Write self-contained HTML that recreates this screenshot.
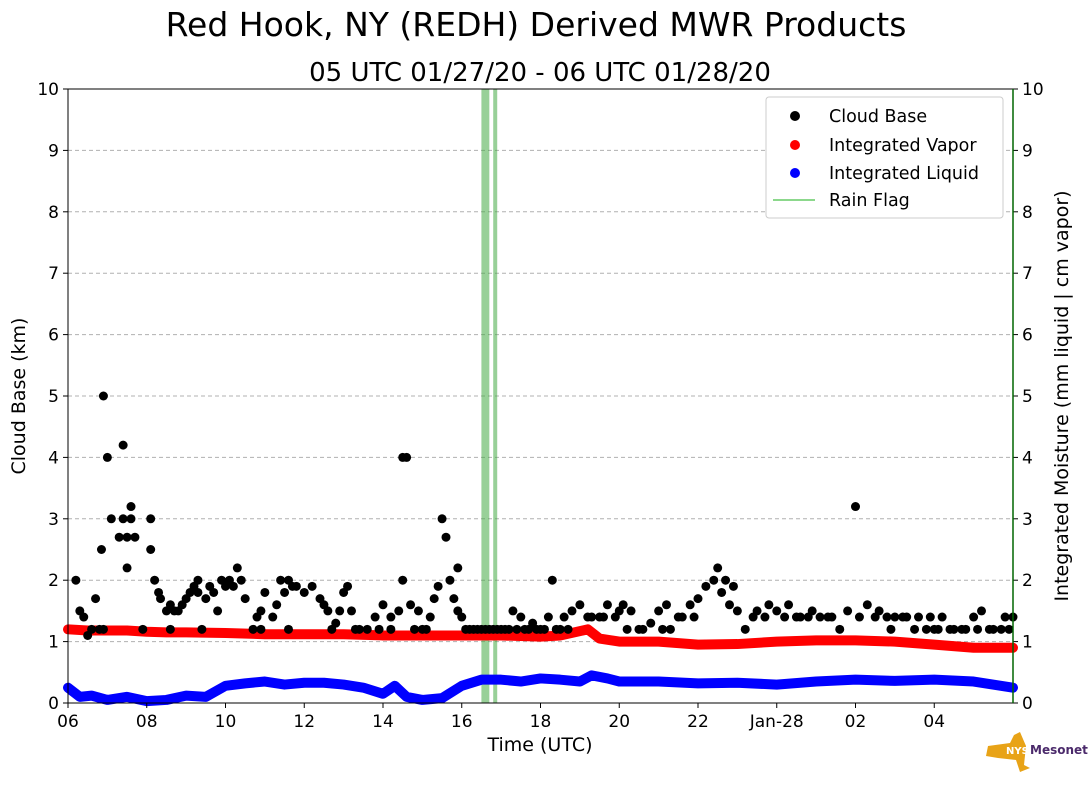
<!DOCTYPE html>
<html><head><meta charset="utf-8"><style>
body{margin:0;background:#fff;font-family:"Liberation Sans","DejaVu Sans",sans-serif}
</style></head><body>
<svg id="chart" width="1089" height="804" xmlns="http://www.w3.org/2000/svg" font-family="DejaVu Sans, Liberation Sans, sans-serif">
<rect width="1089" height="804" fill="#fff"/>
<text x="536" y="36" font-size="33" text-anchor="middle">Red Hook, NY (REDH) Derived MWR Products</text>
<text x="540" y="81" font-size="26" text-anchor="middle">05 UTC 01/27/20 - 06 UTC 01/28/20</text>
<g id="grid"></g><g id="rain"></g><g id="marks"></g><g id="axes"></g>
<text transform="translate(25,396) rotate(-90)" font-size="19" text-anchor="middle">Cloud Base (km)</text>
<text transform="translate(1068,396) rotate(-90)" font-size="19" text-anchor="middle">Integrated Moisture (mm liquid | cm vapor)</text>
<text x="540" y="751" font-size="19" text-anchor="middle">Time (UTC)</text>
<g>
<rect x="766" y="97" width="237" height="121" rx="3" fill="#fff" stroke="#ccc"/>
<circle cx="795" cy="116" r="5" fill="#000"/><text x="829" y="122" font-size="17.5">Cloud Base</text>
<circle cx="795" cy="145" r="5" fill="red"/><text x="829" y="151" font-size="17.5">Integrated Vapor</text>
<circle cx="795" cy="173" r="5" fill="blue"/><text x="829" y="179" font-size="17.5">Integrated Liquid</text>
<line x1="773" y1="200" x2="815" y2="200" stroke="#6c6" stroke-width="1.5"/><text x="829" y="206" font-size="17.5">Rain Flag</text>
</g>
<g>
<path d="M988,746 L1010,743 L1014,735 L1020,732 L1026,746 L1024,765 L1030,768 L1020,772 L1016,760 L998,758 L986,756 Z" fill="#e8a317"/>
<text x="1006" y="754" font-size="10" font-weight="bold" fill="#fff">NYS</text>
<text x="1030" y="754" font-size="12" font-weight="bold" fill="#4b2a6b">Mesonet</text>
</g>
</svg>
<script>
const xTickLabels=["06","08","10","12","14","16","18","20","22","Jan-28","02","04"];
const yTickLabels=[0,1,2,3,4,5,6,7,8,9,10];
const rainFlag=[16.55,16.65,16.85];
const cloudHours=[6.2,6.3,6.4,6.5,6.6,6.7,6.8,6.85,6.9,7.0,7.1,7.3,7.4,7.4,7.5,7.5,7.6,7.6,7.7,8.1,8.1,8.2,8.3,8.35,8.5,8.6,8.7,8.8,8.9,9.0,9.1,9.2,9.3,9.3,9.5,9.6,9.7,9.8,9.9,10.0,10.1,10.2,10.3,10.4,10.5,10.7,10.8,10.9,11.0,11.2,11.3,11.4,11.5,11.6,11.7,11.8,12.0,12.2,12.4,12.5,12.6,12.8,12.9,13.0,13.1,13.2,13.3,13.6,13.8,14.0,14.2,14.4,14.5,14.6,14.5,14.7,14.8,14.9,15.0,15.2,15.3,15.4,15.5,15.6,15.7,15.8,15.9,15.9,16.0,16.1,16.3,16.5,16.7,16.9,17.1,17.3,17.5,17.7,17.8,18.0,18.2,18.3,18.5,18.6,18.8,19.0,19.2,19.5,19.7,20.0,20.1,20.3,20.5,20.8,21.0,21.2,21.3,21.5,21.8,22.0,22.2,22.4,22.5,22.6,22.7,22.8,22.9,23.0,23.2,23.5,23.8,24.0,24.3,24.6,24.9,25.3,25.6,25.8,26.0,26.3,26.6,26.9,27.2,27.5,27.8,28.0,28.2,28.5,28.8,29.0,29.2,29.5,29.8,30.0,
6.9,7.9,8.6,9.4,10.9,11.6,12.7,13.4,13.9,14.2,15.1,16.2,16.4,16.6,16.8,17.0,17.2,17.4,17.6,17.9,18.1,18.4,18.7,19.3,19.6,19.9,20.2,20.6,21.1,21.6,21.9,23.4,23.7,24.2,24.5,24.8,25.1,25.4,26.1,26.5,26.8,27.0,27.3,27.6,27.9,28.1,28.4,28.7,29.1,29.4,29.7,29.9];
const cloudKm=[2.0,1.5,1.4,1.1,1.2,1.7,1.2,2.5,5.0,4.0,3.0,2.7,4.2,3.0,2.2,2.7,3.2,3.0,2.7,3.0,2.5,2.0,1.8,1.7,1.5,1.6,1.5,1.5,1.6,1.7,1.8,1.9,2.0,1.8,1.7,1.9,1.8,1.5,2.0,1.9,2.0,1.9,2.2,2.0,1.7,1.2,1.4,1.5,1.8,1.4,1.6,2.0,1.8,2.0,1.9,1.9,1.8,1.9,1.7,1.6,1.5,1.3,1.5,1.8,1.9,1.5,1.2,1.2,1.4,1.6,1.4,1.5,4.0,4.0,2.0,1.6,1.2,1.5,1.2,1.4,1.7,1.9,3.0,2.7,2.0,1.7,2.2,1.5,1.4,1.2,1.2,1.2,1.2,1.2,1.2,1.5,1.4,1.2,1.3,1.2,1.4,2.0,1.2,1.4,1.5,1.6,1.4,1.4,1.6,1.5,1.6,1.5,1.2,1.3,1.5,1.6,1.2,1.4,1.6,1.7,1.9,2.0,2.2,1.8,2.0,1.6,1.9,1.5,1.2,1.5,1.6,1.5,1.6,1.4,1.5,1.4,1.2,1.5,3.2,1.6,1.5,1.2,1.4,1.2,1.2,1.2,1.4,1.2,1.2,1.4,1.5,1.2,1.4,1.4,
1.2,1.2,1.2,1.2,1.2,1.2,1.2,1.2,1.2,1.2,1.2,1.2,1.2,1.2,1.2,1.2,1.2,1.2,1.2,1.2,1.2,1.2,1.2,1.4,1.4,1.4,1.2,1.2,1.2,1.4,1.4,1.4,1.4,1.4,1.4,1.4,1.4,1.4,1.4,1.4,1.4,1.4,1.4,1.4,1.4,1.2,1.2,1.2,1.2,1.2,1.2,1.2];
const vaporHours=[6,6.5,7,7.5,8,8.5,9,10,11,12,13,14,15,16,17,18,18.5,19,19.2,19.5,20,21,22,23,24,25,26,27,28,29,30];
const vaporVals=[1.2,1.18,1.18,1.18,1.16,1.15,1.15,1.14,1.12,1.12,1.12,1.1,1.1,1.1,1.1,1.08,1.1,1.17,1.2,1.05,1.0,1.0,0.95,0.96,1.0,1.02,1.02,1.0,0.95,0.9,0.9];
const liquidHours=[6,6.3,6.6,7,7.5,8,8.5,9,9.5,10,10.5,11,11.5,12,12.5,13,13.5,14,14.3,14.6,15,15.5,16,16.5,17,17.5,18,18.5,19,19.3,19.7,20,21,22,23,24,25,26,27,28,29,30];
const liquidVals=[0.25,0.1,0.12,0.05,0.1,0.03,0.05,0.12,0.1,0.28,0.32,0.35,0.3,0.33,0.33,0.3,0.25,0.15,0.28,0.1,0.05,0.08,0.28,0.38,0.38,0.35,0.4,0.38,0.35,0.45,0.4,0.35,0.35,0.32,0.33,0.3,0.35,0.38,0.36,0.38,0.35,0.25];
const X0=68,X1=1013,Y0=703,Y1=89;
const xs=h=>X0+(h-6)*(X1-X0)/24;
const ys=v=>Y0-v*(Y0-Y1)/10;
const NS="http://www.w3.org/2000/svg";
function mk(p,t,a){const e=document.createElementNS(NS,t);for(const k in a)e.setAttribute(k,a[k]);p.appendChild(e);return e;}
const grid=document.getElementById('grid'),axes=document.getElementById('axes'),marks=document.getElementById('marks'),rain=document.getElementById('rain');
yTickLabels.forEach(v=>{
 if(v>0&&v<10){const g=mk(grid,'line',{x1:X0,x2:X1,y1:ys(v),y2:ys(v),stroke:'#b0b0b0','stroke-dasharray':'4,3'});
 }
 mk(axes,'line',{x1:X0-5,x2:X0,y1:ys(v),y2:ys(v),stroke:'#000'});
 mk(axes,'line',{x1:X1,x2:X1+5,y1:ys(v),y2:ys(v),stroke:'#000'});
 const t=mk(axes,'text',{x:X0-9,y:ys(v)+6,'font-size':17,'text-anchor':'end'});t.textContent=v;
 
 const t2=mk(axes,'text',{x:X1+9,y:ys(v)+6,'font-size':17});t2.textContent=v;
 
});
xTickLabels.forEach((l,i)=>{const x=xs(6+2*i);
 mk(axes,'line',{x1:x,x2:x,y1:Y0,y2:Y0+5,stroke:'#000'});
 const t=mk(axes,'text',{x:x,y:Y0+24,'font-size':17,'text-anchor':'middle'});t.textContent=l;
 
});
rainFlag.forEach(h=>{const r=mk(rain,'line',{x1:xs(h),x2:xs(h),y1:Y1,y2:Y0,stroke:'#4a4','stroke-width':4,'stroke-opacity':0.55});
 });
function series(hs,vs,col,name){
 const d=hs.map((h,i)=>(i?'L':'M')+xs(h)+','+ys(vs[i])).join('');
 const p=mk(marks,'path',{d:d,fill:'none',stroke:col,'stroke-width':10,'stroke-linecap':'round','stroke-linejoin':'round'});
 
}
series(vaporHours,vaporVals,'red','integrated-vapor-series');
series(liquidHours,liquidVals,'blue','integrated-liquid-series');
cloudHours.forEach((h,i)=>{const c=mk(marks,'circle',{cx:xs(h),cy:ys(cloudKm[i]),r:4.5,fill:'#000'});
 });
const fr=mk(axes,'rect',{x:X0,y:Y1,width:X1-X0,height:Y0-Y1,fill:'none',stroke:'#000','stroke-width':1});

mk(axes,'line',{x1:X1,x2:X1,y1:Y1,y2:Y0,stroke:'#060','stroke-width':1.5});
</script>
</body></html>
